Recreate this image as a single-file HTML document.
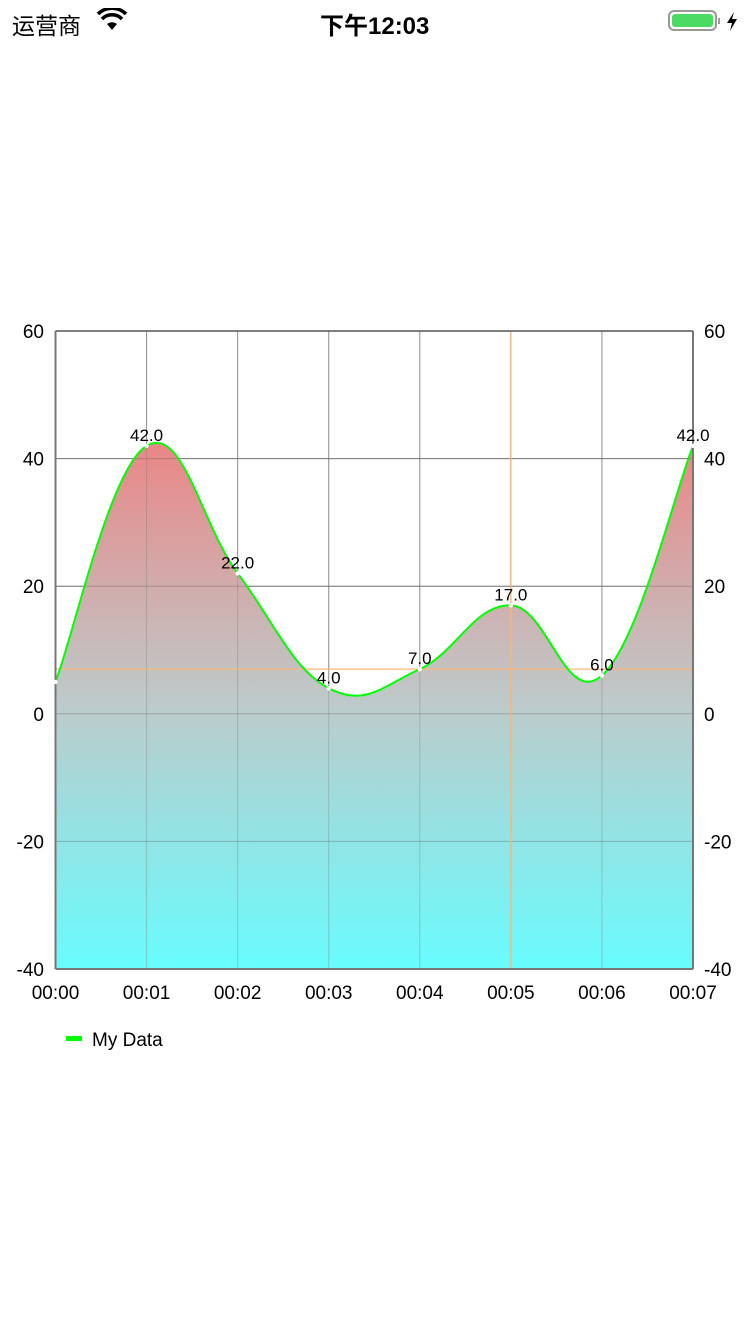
<!DOCTYPE html>
<html><head><meta charset="utf-8">
<style>
body{margin:0;width:750px;height:1334px;background:#fff;overflow:hidden;font-family:"Liberation Sans","Noto Sans CJK SC",sans-serif;}
#status{position:absolute;left:0;top:0;width:750px;height:40px;}
</style></head>
<body>
<div id="status">
<span style="position:absolute;left:12px;top:7px;font-size:23px;">运营商</span>
<svg style="position:absolute;left:96px;top:8px" width="32" height="24" viewBox="0 0 32 24"><path d="M16 22 L11 16 A8 8 0 0 1 21 16 Z" fill="#000"/><path d="M6 11 A14 14 0 0 1 26 11" stroke="#000" stroke-width="3.5" fill="none"/><path d="M2 6 A20 20 0 0 1 30 6" stroke="#000" stroke-width="3.5" fill="none"/></svg>
<span style="position:absolute;left:320px;top:6px;font-size:24px;font-weight:600;">下午12:03</span>
<svg style="position:absolute;left:668px;top:9px" width="76" height="24"><rect x="1" y="2" width="47" height="19" rx="5" fill="none" stroke="#999" stroke-width="2"/><rect x="4" y="5" width="41" height="13" rx="3" fill="#4cd964"/><rect x="50" y="9" width="2" height="6" fill="#999"/><path d="M66 3 L59 14 L64 14 L62 22 L69 10 L64 10 Z" fill="#000"/></svg>
</div>
<svg id="chart" width="750" height="1334" style="position:absolute;left:0;top:0"></svg>
<script>
const categories=["00:00","00:01","00:02","00:03","00:04","00:05","00:06","00:07"];
const values=[5,42,22,4,7,17,6,42];
const yTicks=[60,40,20,0,-20,-40];
const highlightIndex=5;
const highlightValue=7;
const X0=55.5,X1=693,Y0=331,Y1=969,YMIN=-40,YMAX=60;
const xs=i=>X0+(X1-X0)*i/(categories.length-1);
const ys=v=>Y1-(v-YMIN)/(YMAX-YMIN)*(Y1-Y0);
const svg=document.getElementById('chart');
const NS='http://www.w3.org/2000/svg';
function mk(t,a,p){const e=document.createElementNS(NS,t);for(const k in a)e.setAttribute(k,a[k]);(p||svg).appendChild(e);return e;}
const defs=mk('defs',{});
const g=mk('linearGradient',{id:'fillg',gradientUnits:'userSpaceOnUse'},defs);
g.setAttribute('x1',0);g.setAttribute('x2',0);g.setAttribute('y1',ys(Math.max(...values)));g.setAttribute('y2',Y1);
mk('stop',{offset:'0','stop-color':'#ea8787'},g);
mk('stop',{offset:'0.5','stop-color':'#bdcbcb'},g);
mk('stop',{offset:'1','stop-color':'#68fcfe'},g);
categories.forEach((c,i)=>{
 const l=mk('line',{x1:xs(i),x2:xs(i),y1:Y0,y2:Y1,stroke:'#a0a0a0','stroke-width':1});
 
 const t=mk('text',{x:xs(i),y:999,'text-anchor':'middle','font-size':19,fill:'#000'});
 t.textContent=c;
 
});
yTicks.forEach(v=>{
 const l=mk('line',{x1:X0,x2:X1,y1:ys(v),y2:ys(v),stroke:'#888','stroke-width':1});
 
 const t=mk('text',{x:44,y:ys(v)+7,'text-anchor':'end','font-size':19,fill:'#000'});
 t.textContent=v;
 
 const t2=mk('text',{x:704,y:ys(v)+7,'text-anchor':'start','font-size':19,fill:'#000'});
 t2.textContent=v;
 
});
const pts=values.map((v,i)=>[xs(i),ys(v)]);
const I=0.2;let d=`M${pts[0][0]},${pts[0][1]}`;
for(let i=1;i<pts.length;i++){
 const pp=pts[Math.max(i-2,0)],p=pts[i-1],c=pts[i],n=pts[Math.min(i+1,pts.length-1)];
 const c1=[p[0]+(c[0]-pp[0])*I,p[1]+(c[1]-pp[1])*I];
 const c2=[c[0]-(n[0]-p[0])*I,c[1]-(n[1]-p[1])*I];
 d+=` C${c1[0]},${c1[1]} ${c2[0]},${c2[1]} ${c[0]},${c[1]}`;
}
const area=mk('path',{d:d+` L${pts[pts.length-1][0]},${Y1} L${pts[0][0]},${Y1} Z`,fill:'url(#fillg)'});

categories.forEach((c,i)=>{mk('line',{x1:xs(i),x2:xs(i),y1:Y0,y2:Y1,stroke:'#777','stroke-width':1,'stroke-opacity':0.35});});
yTicks.forEach(v=>{mk('line',{x1:X0,x2:X1,y1:ys(v),y2:ys(v),stroke:'#555','stroke-width':1,'stroke-opacity':0.35});});
const hv=mk('line',{x1:xs(highlightIndex),x2:xs(highlightIndex),y1:Y0,y2:Y1,stroke:'#f8b878','stroke-width':1.2});

const hh=mk('line',{x1:X0,x2:X1,y1:ys(highlightValue),y2:ys(highlightValue),stroke:'#f8b878','stroke-width':1.2});

const line=mk('path',{d:d,fill:'none',stroke:'#00ff00','stroke-width':2});

const la=mk('line',{x1:X0,x2:X0,y1:Y0,y2:Y1,stroke:'#777','stroke-width':2});

const ra=mk('line',{x1:X1,x2:X1,y1:Y0,y2:Y1,stroke:'#777','stroke-width':2});

const ta=mk('line',{x1:X0,x2:X1,y1:Y0,y2:Y0,stroke:'#555','stroke-width':1.5});

const ba=mk('line',{x1:X0,x2:X1,y1:Y1,y2:Y1,stroke:'#777','stroke-width':2});

values.forEach((v,i)=>{
 const c=mk('circle',{cx:xs(i),cy:ys(v),r:2.2,fill:'#fff'});
 
 if(i===0)return;
 const t=mk('text',{x:Math.min(xs(i),693),y:ys(v)-5,'text-anchor':'middle','font-size':17,fill:'#000'});
 t.textContent=v.toFixed(1);
 
});
const lg=mk('rect',{x:66,y:1036,width:16,height:5,fill:'#00ff00'});

const lt=mk('text',{x:92,y:1046,'font-size':19,fill:'#000'});
lt.textContent='My Data';

</script>
</body></html>
